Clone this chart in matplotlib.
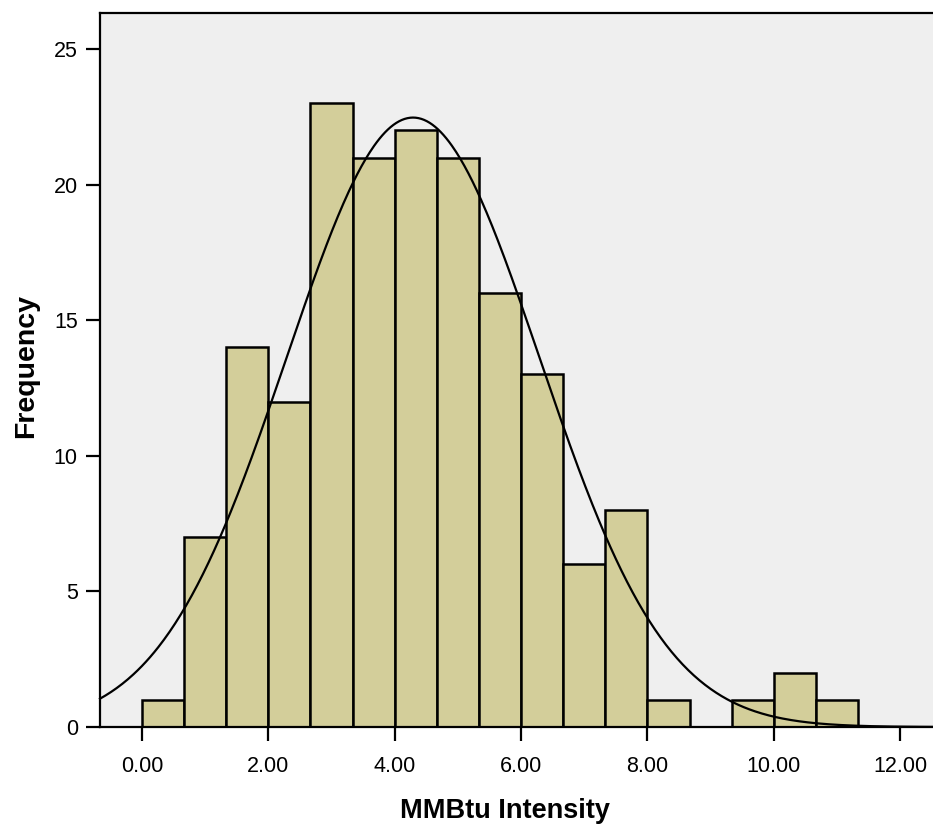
import numpy as np
import matplotlib
matplotlib.use("Agg")
import matplotlib.pyplot as plt

# histogram of MMBtu intensity
bin_start = 0.0
bin_width = 2.0 / 3.0
counts = [1, 7, 14, 12, 23, 21, 22, 21, 16, 13, 6, 8, 1, 0, 1, 2, 1]

# fitted normal curve
mean = 4.29
std_dev = 2.0
n_total = sum(counts)

x_ticks = [0, 2, 4, 6, 8, 10, 12]
y_ticks = [0, 5, 10, 15, 20, 25]

plt.rcParams['font.family'] = ['Liberation Sans', 'DejaVu Sans']

W, H = 933, 824
fig = plt.figure(figsize=(W / 100, H / 100), dpi=100, facecolor='white')
ax = fig.add_axes([100 / W, 1 - 727 / H, 833 / W, 714 / H])
ax.set_facecolor('#EFEFEF')

lefts = bin_start + bin_width * np.arange(len(counts))
ax.bar(lefts, counts, width=bin_width, align='edge',
       color='#D3CE9A', edgecolor='black', linewidth=1.8, zorder=2)

x_min, x_max = -0.665, 12.52
xs = np.linspace(x_min, x_max, 600)
pdf = np.exp(-0.5 * ((xs - mean) / std_dev) ** 2) / (std_dev * np.sqrt(2 * np.pi))
ax.plot(xs, pdf * n_total * bin_width, color='black', linewidth=1.6, zorder=3,
        clip_on=False)

ax.set_xlim(x_min, x_max)
ax.set_ylim(0, 26.33)
ax.set_xticks(x_ticks)
ax.set_xticklabels([f"{t:.2f}" for t in x_ticks])
ax.set_yticks(y_ticks)

ax.spines['right'].set_visible(False)
for side in ['left', 'top', 'bottom']:
    ax.spines[side].set_linewidth(1.6)
ax.spines['bottom'].set_zorder(4)

ax.tick_params(axis='both', direction='out', length=10, width=1.6,
               labelsize=15.5)
ax.tick_params(axis='x', pad=11)
ax.tick_params(axis='y', pad=6)

# axis titles placed in figure pixels
fig.text(505 / W, 1 - 818 / H, 'MMBtu Intensity', fontsize=19.5,
         fontweight='bold', ha='center', va='baseline')
fig.text(33 / W, 1 - 366 / H, 'Frequency', fontsize=20.5, fontweight='bold',
         rotation=90, rotation_mode='anchor', ha='center', va='baseline')

fig.savefig('out.png', dpi=100, facecolor='white')
